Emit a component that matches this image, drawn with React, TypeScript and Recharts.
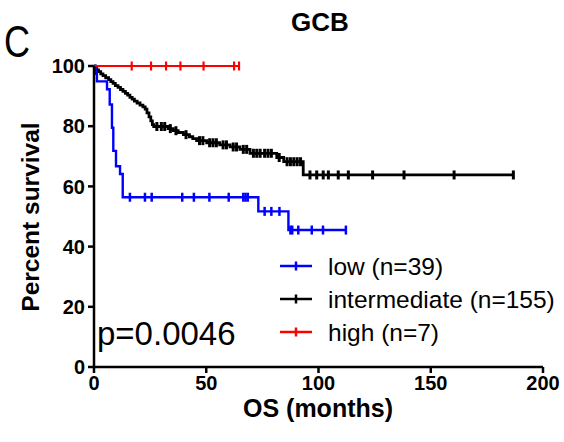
import React from 'react';
import { LineChart, Line, XAxis, YAxis } from 'recharts';

// t = months, s = percent survival, c = 1 if censored mark
const lowSeries = [
  { t: 0, s: 100, c: 0 }, { t: 0.8, s: 97.4, c: 0 }, { t: 1.3, s: 94.9, c: 0 },
  { t: 5.8, s: 92.3, c: 0 }, { t: 7, s: 87.2, c: 0 }, { t: 8, s: 79.5, c: 0 },
  { t: 8.6, s: 71.8, c: 0 }, { t: 9.8, s: 66.7, c: 0 }, { t: 11.6, s: 64.1, c: 0 },
  { t: 12.8, s: 56.4, c: 0 }, { t: 16, s: 56.4, c: 1 }, { t: 22.7, s: 56.4, c: 1 },
  { t: 25.7, s: 56.4, c: 1 }, { t: 39.3, s: 56.4, c: 1 }, { t: 44.5, s: 56.4, c: 1 },
  { t: 51.4, s: 56.4, c: 1 }, { t: 60, s: 56.4, c: 1 }, { t: 66.5, s: 56.4, c: 1 },
  { t: 67.5, s: 56.4, c: 1 }, { t: 68.5, s: 56.4, c: 1 }, { t: 73.2, s: 51.7, c: 0 },
  { t: 76, s: 51.7, c: 1 }, { t: 79, s: 51.7, c: 1 }, { t: 82.6, s: 51.7, c: 1 },
  { t: 86.6, s: 45.5, c: 0 }, { t: 87.5, s: 45.5, c: 1 }, { t: 88.3, s: 45.5, c: 1 },
  { t: 91, s: 45.5, c: 1 }, { t: 97, s: 45.5, c: 1 }, { t: 102, s: 45.5, c: 1 },
  { t: 112.2, s: 45.5, c: 1 },
];

const intermediateSeries = [
  { t: 0, s: 100, c: 0 }, { t: 0.5, s: 99.4, c: 0 }, { t: 1.2, s: 98.7, c: 0 },
  { t: 2, s: 98.1, c: 0 }, { t: 3, s: 97.4, c: 0 }, { t: 4, s: 96.8, c: 0 },
  { t: 5.2, s: 96.1, c: 0 }, { t: 6.5, s: 95.5, c: 0 }, { t: 7.5, s: 94.8, c: 0 },
  { t: 8.5, s: 94.2, c: 0 }, { t: 9.5, s: 93.5, c: 0 }, { t: 10.7, s: 92.9, c: 0 },
  { t: 11.8, s: 92.2, c: 0 }, { t: 12.9, s: 91.6, c: 0 }, { t: 14, s: 90.9, c: 0 },
  { t: 15, s: 90.3, c: 0 }, { t: 16, s: 89.6, c: 0 }, { t: 17, s: 89.0, c: 0 },
  { t: 18, s: 88.3, c: 0 }, { t: 19.2, s: 87.7, c: 0 }, { t: 20.5, s: 87.0, c: 0 },
  { t: 21.8, s: 86.4, c: 0 }, { t: 22.8, s: 85.7, c: 0 }, { t: 23.6, s: 84.4, c: 0 },
  { t: 24.5, s: 83.1, c: 0 }, { t: 25.3, s: 81.8, c: 0 }, { t: 26, s: 80.5, c: 0 },
  { t: 26.6, s: 79.9, c: 0 }, { t: 28, s: 79.9, c: 1 }, { t: 30, s: 79.9, c: 1 },
  { t: 31.5, s: 79.9, c: 1 }, { t: 33, s: 79.2, c: 0 }, { t: 34, s: 79.2, c: 1 },
  { t: 35.3, s: 78.5, c: 0 }, { t: 36.5, s: 78.5, c: 1 }, { t: 37.5, s: 77.9, c: 0 },
  { t: 39.8, s: 77.2, c: 0 }, { t: 41, s: 77.2, c: 1 }, { t: 42.5, s: 76.5, c: 0 },
  { t: 44, s: 75.9, c: 0 }, { t: 45.7, s: 75.2, c: 0 }, { t: 47, s: 75.2, c: 1 },
  { t: 48.5, s: 75.2, c: 1 }, { t: 50.2, s: 74.5, c: 0 }, { t: 51.5, s: 74.5, c: 1 },
  { t: 53, s: 74.5, c: 1 }, { t: 54.5, s: 74.5, c: 1 }, { t: 56, s: 73.8, c: 0 },
  { t: 57.5, s: 73.8, c: 1 }, { t: 59, s: 73.8, c: 1 }, { t: 60.6, s: 73.1, c: 0 },
  { t: 62, s: 73.1, c: 1 }, { t: 63.5, s: 73.1, c: 1 }, { t: 65, s: 72.3, c: 0 },
  { t: 66.5, s: 72.3, c: 1 }, { t: 68, s: 72.3, c: 1 }, { t: 69.5, s: 71.0, c: 0 },
  { t: 71, s: 71.0, c: 1 }, { t: 72.5, s: 71.0, c: 1 }, { t: 74, s: 71.0, c: 1 },
  { t: 76, s: 71.0, c: 1 }, { t: 77.5, s: 71.0, c: 1 }, { t: 79, s: 71.0, c: 1 },
  { t: 81.4, s: 69.6, c: 0 }, { t: 82.5, s: 69.6, c: 1 }, { t: 84.5, s: 68.2, c: 0 },
  { t: 86, s: 68.2, c: 1 }, { t: 87.5, s: 68.2, c: 1 }, { t: 89, s: 68.2, c: 1 },
  { t: 90.5, s: 68.2, c: 1 }, { t: 92, s: 68.2, c: 1 }, { t: 93.2, s: 63.8, c: 0 },
  { t: 96.2, s: 63.8, c: 1 }, { t: 99.2, s: 63.8, c: 1 }, { t: 102.1, s: 63.8, c: 1 },
  { t: 104.4, s: 63.8, c: 1 }, { t: 108.8, s: 63.8, c: 1 }, { t: 113.3, s: 63.8, c: 1 },
  { t: 124.1, s: 63.8, c: 1 }, { t: 138.1, s: 63.8, c: 1 }, { t: 160.4, s: 63.8, c: 1 },
  { t: 186.8, s: 63.8, c: 1 },
];

const highSeries = [
  { t: 0, s: 100, c: 0 }, { t: 16.8, s: 100, c: 1 }, { t: 25.4, s: 100, c: 1 },
  { t: 32.1, s: 100, c: 1 }, { t: 38.5, s: 100, c: 1 }, { t: 48.8, s: 100, c: 1 },
  { t: 62.4, s: 100, c: 1 }, { t: 64.6, s: 100, c: 1 },
];

const xTicks = [0, 50, 100, 150, 200];
const yTicks = [0, 20, 40, 60, 80, 100];
const legendLabels = ['low (n=39)', 'intermediate (n=155)', 'high (n=7)'];
const seriesColors = ['#0000FF', '#000000', '#FF0000'];
const titleText = 'GCB';
const panelLetter = 'C';
const pValueText = 'p=0.0046';
const xTitle = 'OS (months)';
const yTitle = 'Percent survival';

const FONT = 'Arial, "Liberation Sans", sans-serif';

const censorDot = (color: string, w: number) => (props: any) => {
  const { cx, cy, payload, index } = props;
  if (!payload || !payload.c || cx == null || cy == null) return <g key={`n-${index}`} />;
  return (
    <line key={`c-${index}`} x1={cx} x2={cx} y1={cy - 4.5} y2={cy + 4.5} stroke={color} strokeWidth={w} />
  );
};

export default function App() {
  const W = 564;
  const H = 442;
  return (
    <div style={{ position: 'absolute', left: 0, top: 0, width: W, height: H, background: '#fff', fontFamily: FONT }}>
      <LineChart width={W} height={H} margin={{ top: 66, right: 21, bottom: 0, left: 0 }}>
        <XAxis
          type="number"
          dataKey="t"
          domain={[0, 200]}
          ticks={xTicks}
          height={75}
          tickSize={6}
          tickMargin={3}
          axisLine={{ stroke: '#000', strokeWidth: 2.5 }}
          tickLine={{ stroke: '#000', strokeWidth: 2.5 }}
          tick={{ fill: '#000', fontSize: 20, fontWeight: 'bold', fontFamily: FONT }}
          allowDuplicatedCategory={false}
        />
        <YAxis
          type="number"
          dataKey="s"
          domain={[0, 100]}
          ticks={yTicks}
          width={94}
          tickSize={6}
          tickMargin={3}
          axisLine={{ stroke: '#000', strokeWidth: 2.5 }}
          tickLine={{ stroke: '#000', strokeWidth: 2.5 }}
          tick={{ fill: '#000', fontSize: 20, fontWeight: 'bold', fontFamily: FONT }}
        />
        <Line
          data={intermediateSeries}
          dataKey="s"
          type="stepAfter"
          stroke={seriesColors[1]}
          strokeWidth={2.8}
          dot={censorDot(seriesColors[1], 3)}
          activeDot={false}
          isAnimationActive={false}
        />
        <Line
          data={lowSeries}
          dataKey="s"
          type="stepAfter"
          stroke={seriesColors[0]}
          strokeWidth={2.4}
          dot={censorDot(seriesColors[0], 2.5)}
          activeDot={false}
          isAnimationActive={false}
        />
        <Line
          data={highSeries}
          dataKey="s"
          type="stepAfter"
          stroke={seriesColors[2]}
          strokeWidth={2}
          dot={censorDot(seriesColors[2], 2.2)}
          activeDot={false}
          isAnimationActive={false}
        />
      </LineChart>
      <svg width={W} height={H} style={{ position: 'absolute', left: 0, top: 0, pointerEvents: 'none' }}>
        <text x={0} y={0} transform="translate(4,57) scale(0.82,1)" fontSize={44} fontFamily={FONT} fill="#000">{panelLetter}</text>
        <text x={320} y={31} fontSize={26} fontWeight="bold" textAnchor="middle" fontFamily={FONT} fill="#000">{titleText}</text>
        <text x={318} y={417} fontSize={25} fontWeight="bold" textAnchor="middle" fontFamily={FONT} fill="#000">{xTitle}</text>
        <text
          x={0}
          y={0}
          transform="translate(39,217) rotate(-90)"
          fontSize={24.5}
          fontWeight="bold"
          textAnchor="middle"
          fontFamily={FONT}
          fill="#000"
        >
          {yTitle}
        </text>
        <text x={97} y={345} fontSize={33} fontFamily={FONT} fill="#000">{pValueText}</text>
        {legendLabels.map((lab, i) => {
          const y = 266 + i * 33;
          return (
            <g key={lab}>
              <line x1={280} x2={312} y1={y} y2={y} stroke={seriesColors[i]} strokeWidth={2.5} />
              <line x1={296} x2={296} y1={y - 4.5} y2={y + 4.5} stroke={seriesColors[i]} strokeWidth={2.5} />
              <text x={328} y={y + 8.5} fontSize={24.5} fontFamily={FONT} fill="#000">{lab}</text>
            </g>
          );
        })}
      </svg>
    </div>
  );
}
